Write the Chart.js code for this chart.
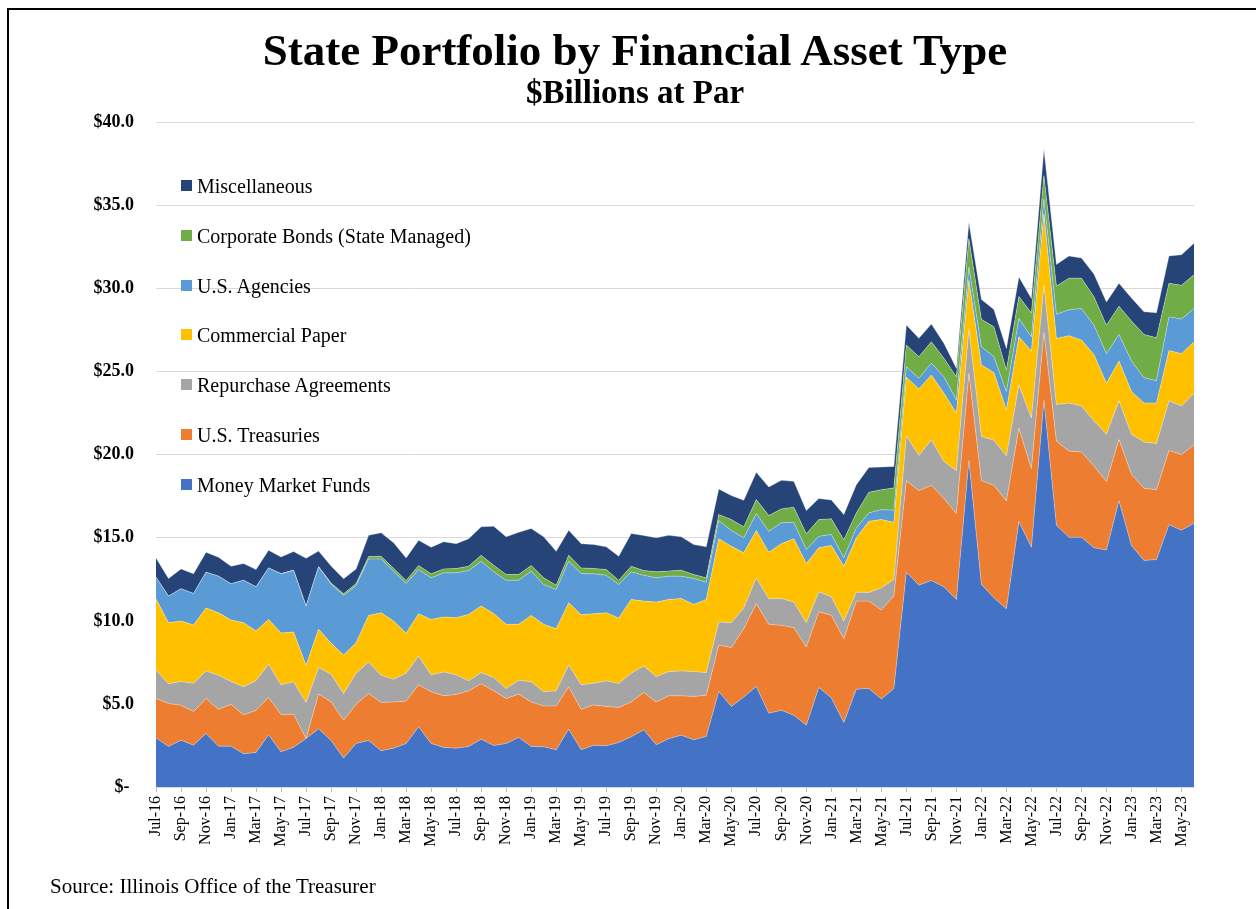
<!DOCTYPE html>
<html>
<head>
<meta charset="utf-8">
<script src="https://cdn.jsdelivr.net/npm/chart.js@4.4.0/dist/chart.umd.min.js"></script>
<style>
  html, body { margin: 0; padding: 0; background: #fff; overflow: hidden; }
  body { width: 1256px; height: 909px; position: relative; font-family: 'Liberation Serif', 'Times New Roman', serif; }
  #frame { position: absolute; left: 7px; top: 8px; width: 1260px; height: 920px; border: 2px solid #000; box-sizing: border-box; }
  #chartWrap { position: absolute; left: 0; top: 0; width: 1256px; height: 909px; }
  .title { position: absolute; left: 0; width: 1270px; text-align: center; font-weight: bold; color: #000; white-space: nowrap; }
  #t1 { top: 28px; font-size: 45px; line-height: 45px; }
  #t2 { top: 76px; font-size: 33px; line-height: 33px; }
  .leg { position: absolute; left: 181px; height: 20px; font-size: 20px; line-height: 20px; color: #000; white-space: nowrap; }
  .leg i { position: absolute; left: 0; top: 4px; width: 11px; height: 11px; }
  .leg span { position: absolute; left: 16px; top: 0; }
  #src { position: absolute; left: 50px; top: 876px; font-size: 21px; line-height: 21px; color: #000; white-space: nowrap; }
</style>
</head>
<body>
<div id="chartWrap"><canvas id="c" width="1256" height="909"></canvas></div>
<div id="frame"></div>
<div class="title" id="t1">State Portfolio by Financial Asset Type</div>
<div class="title" id="t2">$Billions at Par</div>
<div id="legend"></div>
<div id="src">Source: Illinois Office of the Treasurer</div>
<script>
const months = [
 'Jul-16','Aug-16','Sep-16','Oct-16','Nov-16','Dec-16','Jan-17','Feb-17','Mar-17','Apr-17','May-17','Jun-17',
 'Jul-17','Aug-17','Sep-17','Oct-17','Nov-17','Dec-17','Jan-18','Feb-18','Mar-18','Apr-18','May-18','Jun-18',
 'Jul-18','Aug-18','Sep-18','Oct-18','Nov-18','Dec-18','Jan-19','Feb-19','Mar-19','Apr-19','May-19','Jun-19',
 'Jul-19','Aug-19','Sep-19','Oct-19','Nov-19','Dec-19','Jan-20','Feb-20','Mar-20','Apr-20','May-20','Jun-20',
 'Jul-20','Aug-20','Sep-20','Oct-20','Nov-20','Dec-20','Jan-21','Feb-21','Mar-21','Apr-21','May-21','Jun-21',
 'Jul-21','Aug-21','Sep-21','Oct-21','Nov-21','Dec-21','Jan-22','Feb-22','Mar-22','Apr-22','May-22','Jun-22',
 'Jul-22','Aug-22','Sep-22','Oct-22','Nov-22','Dec-22','Jan-23','Feb-23','Mar-23','Apr-23','May-23','Jun-23'
];

const moneyMarketFunds = [
 2.96,2.44,2.82,2.52,3.22,2.46,2.46,2.00,2.08,3.14,
 2.12,2.40,2.92,3.50,2.80,1.74,2.62,2.80,2.18,2.34,
 2.62,3.62,2.62,2.38,2.34,2.44,2.88,2.50,2.62,2.98,
 2.44,2.42,2.24,3.48,2.24,2.52,2.48,2.68,3.02,3.44,
 2.54,2.91,3.12,2.84,3.04,5.75,4.85,5.42,6.05,4.44,
 4.62,4.32,3.72,5.99,5.37,3.88,5.89,5.93,5.29,5.93,
 12.93,12.15,12.43,12.05,11.29,19.65,12.19,11.39,10.73,15.98,
 14.43,23.27,15.75,15.03,15.03,14.40,14.27,17.23,14.53,13.64,
 13.69,15.79,15.46,15.87
];
const usTreasuries = [
 2.37,2.59,2.10,2.02,2.11,2.21,2.52,2.34,2.54,2.25,
 2.24,1.98,0.00,2.10,2.32,2.28,2.36,2.83,2.91,2.78,
 2.55,2.53,3.11,3.11,3.23,3.35,3.33,3.29,2.71,2.61,
 2.68,2.46,2.64,2.55,2.44,2.42,2.37,2.11,2.10,2.25,
 2.58,2.58,2.37,2.61,2.49,2.80,3.54,4.11,4.98,5.35,
 5.11,5.27,4.71,4.56,4.97,5.05,5.30,5.26,5.36,5.56,
 5.51,5.69,5.73,5.31,5.17,5.25,6.24,6.78,6.49,5.62,
 4.73,4.09,5.07,5.19,5.13,4.93,4.12,3.69,4.29,4.35,
 4.20,4.47,4.55,4.72
];
const repurchaseAgreements = [
 1.72,1.18,1.43,1.71,1.66,2.06,1.37,1.69,1.79,2.00,
 1.79,1.95,2.17,1.60,1.66,1.61,1.87,1.90,1.64,1.37,
 1.68,1.74,1.02,1.44,1.18,0.60,0.68,0.80,0.60,0.84,
 1.21,0.85,0.91,1.32,1.47,1.31,1.54,1.44,1.73,1.60,
 1.53,1.46,1.50,1.50,1.36,1.38,1.50,1.26,1.56,1.54,
 1.62,1.54,1.46,1.20,1.11,1.06,0.54,0.52,1.34,1.00,
 2.70,2.12,2.74,2.24,2.58,2.65,2.67,2.71,2.71,2.60,
 3.04,2.84,2.20,2.90,2.78,2.71,2.84,2.33,2.41,2.78,
 2.78,2.99,2.93,3.11
];
const commercialPaper = [
 4.28,3.68,3.64,3.50,3.78,3.76,3.70,3.86,2.98,2.70,
 3.12,3.00,2.24,2.30,1.88,2.32,1.84,2.80,3.76,3.50,
 2.40,2.54,3.34,3.30,3.44,4.00,4.00,3.86,3.86,3.36,
 4.00,4.06,3.74,3.74,4.22,4.18,4.10,3.94,4.44,3.90,
 4.48,4.34,4.36,4.04,4.40,5.02,4.60,3.31,2.85,2.80,
 3.29,3.82,3.56,2.65,3.09,3.30,3.27,4.28,4.11,3.44,
 3.53,4.00,3.90,4.11,3.46,2.95,4.30,4.07,2.77,2.90,
 4.04,4.30,3.98,4.05,3.97,3.99,3.08,2.40,2.57,2.35,
 2.45,3.03,3.14,3.09
];
const usAgencies = [
 1.30,1.60,1.94,1.90,2.16,2.20,2.18,2.56,2.66,3.10,
 3.56,3.70,3.56,3.74,3.56,3.58,3.44,3.40,3.24,3.00,
 3.00,2.66,2.50,2.66,2.70,2.64,2.70,2.50,2.66,2.66,
 2.66,2.40,2.36,2.50,2.48,2.40,2.26,2.02,1.66,1.56,
 1.46,1.40,1.34,1.56,1.04,1.09,0.95,0.90,1.02,1.26,
 1.26,0.98,0.84,0.69,0.66,0.51,0.60,0.51,0.60,0.73,
 0.63,0.65,0.71,0.99,0.80,0.80,1.10,0.95,1.10,1.10,
 0.86,0.90,1.46,1.56,1.89,1.77,1.77,1.59,1.85,1.52,
 1.34,2.02,2.09,2.01
];
const corporateBonds = [
 0,0,0,0,0,0,0,0,0,0,
 0.02,0.03,0.02,0.03,0.06,0.10,0.12,0.14,0.16,0.18,
 0.18,0.24,0.24,0.24,0.26,0.26,0.36,0.40,0.34,0.34,
 0.34,0.40,0.26,0.36,0.34,0.32,0.34,0.26,0.34,0.28,
 0.36,0.31,0.36,0.24,0.26,0.36,0.66,0.66,0.84,0.95,
 0.84,0.91,0.95,1.01,0.94,1.09,0.90,1.24,1.20,1.34,
 1.31,1.29,1.29,1.11,1.40,1.70,1.65,1.80,1.30,1.33,
 1.43,1.40,1.70,1.90,1.83,1.71,1.72,1.70,2.40,2.60,
 2.58,2.02,2.03,2.03
];
const miscellaneous = [
 1.16,1.06,1.20,1.18,1.20,1.14,1.06,1.00,1.04,1.06,
 1.00,1.11,2.86,0.93,1.02,0.90,0.88,1.28,1.41,1.53,
 1.36,1.52,1.60,1.63,1.50,1.65,1.71,2.35,2.27,2.54,
 2.23,2.47,2.04,1.50,1.46,1.44,1.37,1.44,1.97,2.11,
 2.05,2.15,2.01,1.80,1.87,1.54,1.44,1.60,1.64,1.72,
 1.72,1.56,1.40,1.26,1.14,1.51,1.70,1.50,1.36,1.30,
 1.20,1.11,1.07,0.90,0.50,1.00,1.20,1.05,1.30,1.17,
 0.87,1.60,1.29,1.34,1.21,1.37,1.39,1.38,1.39,1.37,
 1.51,1.65,1.84,1.90
];

const seriesNames = ['Money Market Funds','U.S. Treasuries','Repurchase Agreements','Commercial Paper','U.S. Agencies','Corporate Bonds (State Managed)','Miscellaneous'];
const seriesData = [moneyMarketFunds, usTreasuries, repurchaseAgreements, commercialPaper, usAgencies, corporateBonds, miscellaneous];
const seriesColors = ['#4472C4','#ED7D31','#A5A5A5','#FFC000','#5B9BD5','#70AD47','#264478'];
const yTicks = [0,5,10,15,20,25,30,35,40];

// legend (top entry = last series)
const legend = document.getElementById('legend');
const legendTop = 186.8, legendStep = 49.7;
for (let k = 0; k < seriesNames.length; k++) {
  const si = seriesNames.length - 1 - k;
  const d = document.createElement('div');
  d.className = 'leg';
  d.style.top = (legendTop + k * legendStep - 10.5) + 'px';
  d.innerHTML = '<i style="background:' + seriesColors[si] + '"></i><span>' + seriesNames[si] + '</span>';
  legend.appendChild(d);
}

const serif = "'Liberation Serif', 'Times New Roman', serif";

new Chart(document.getElementById('c'), {
  type: 'line',
  data: {
    labels: months,
    datasets: seriesData.map((arr, i) => ({
      label: seriesNames[i],
      data: arr,
      backgroundColor: seriesColors[i],
      borderColor: 'rgba(255,255,255,0.55)',
      borderWidth: 0.6,
      fill: i === 0 ? 'origin' : '-1',
      pointRadius: 0,
      tension: 0
    }))
  },
  options: {
    responsive: false,
    animation: false,
    layout: { padding: { left: 0, top: 122.5, right: 62, bottom: 0 } },
    plugins: { legend: { display: false }, tooltip: { enabled: false }, title: { display: false } },
    scales: {
      x: {
        type: 'category',
        offset: false,
        afterFit: (s) => { s.height = 122; },
        grid: {
          display: true,
          drawOnChartArea: false,
          drawTicks: true,
          tickLength: 5,
          color: (ctx) => (ctx.index % 2 === 0 ? '#bfbfbf' : 'rgba(0,0,0,0)')
        },
        border: { display: true, color: '#d9d9d9', width: 1 },
        ticks: {
          autoSkip: false,
          maxRotation: 90,
          minRotation: 90,
          padding: 4,
          color: '#000',
          font: { family: serif, size: 16 },
          callback: function (v, idx) { return idx % 2 === 0 ? months[idx] : ''; }
        }
      },
      y: {
        stacked: true,
        min: 0,
        max: 40,
        afterFit: (s) => { s.width = 156; },
        afterBuildTicks: (s) => { s.ticks = yTicks.map(v => ({ value: v })); },
        grid: { color: '#d9d9d9', lineWidth: 1, drawTicks: false },
        border: { display: false },
        ticks: {
          padding: 22,
          color: '#000',
          font: { family: serif, size: 18, weight: 'bold' },
          callback: (v) => (v === 0 ? '$- ' : '$' + Number(v).toFixed(1))
        }
      }
    }
  }
});
</script>
</body>
</html>
